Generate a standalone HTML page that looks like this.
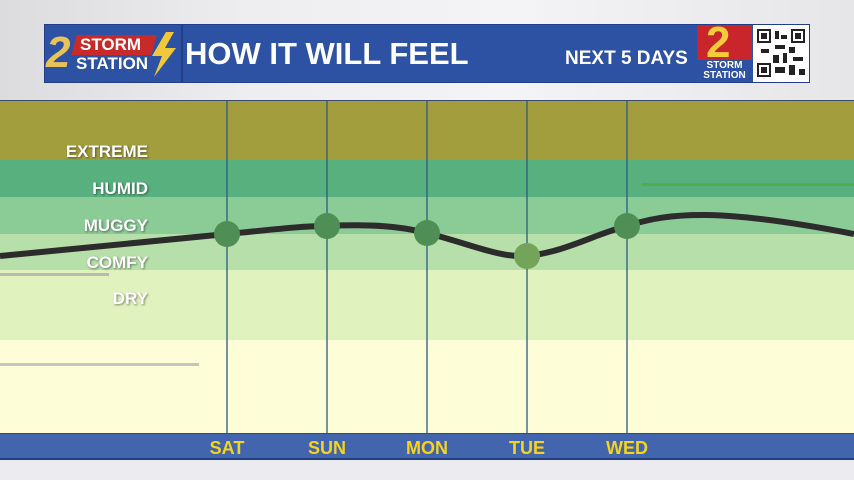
<!DOCTYPE html>
<html><head><meta charset="utf-8"><style>
*{margin:0;padding:0;box-sizing:border-box}
body{width:854px;height:480px;overflow:hidden;position:relative;background:linear-gradient(90deg,#dcdcde 0%,#eeeef0 30%,#f4f4f6 60%,#e6e6e8 100%);font-family:"Liberation Sans",sans-serif;font-weight:bold}
.a{position:absolute}
.lbl{position:absolute;right:706px;color:#fff;font-size:17px;text-shadow:1px 1px 2px rgba(0,0,0,.45)}
.day{position:absolute;top:438px;width:80px;margin-left:-40px;text-align:center;color:#f5d41e;font-size:18px}
</style></head><body>
<!-- header -->
<div class="a" style="left:44px;top:24px;width:766px;height:59px;background:#2e52a3;border:1px solid #213e86"></div>
<div class="a" style="left:181px;top:24px;width:2px;height:59px;background:#213e86"></div>
<div class="a" style="left:46px;top:30px;font-size:44px;color:#e8c35a;font-style:italic;line-height:46px;letter-spacing:-2px">2</div>
<div class="a" style="left:74px;top:35px;width:80px;height:20px;background:#c82a2a;transform:skewX(-15deg)"></div>
<div class="a" style="left:80px;top:35px;font-size:17px;color:#fff;line-height:20px">STORM</div>
<div class="a" style="left:76px;top:54px;font-size:17px;color:#fff;line-height:20px">STATION</div>
<svg class="a" style="left:148px;top:32px" width="30" height="45"><polygon points="18,0 4,24 14,24 6,45 28,16 17,16 26,0" fill="#f0c83a"/></svg>
<div class="a" style="left:185px;top:36px;font-size:31px;color:#fff;line-height:36px">HOW IT WILL FEEL</div>
<div class="a" style="left:565px;top:48px;font-size:19px;color:#fff;line-height:22px">NEXT 5 DAYS</div>
<div class="a" style="left:697px;top:25px;width:55px;height:57px;background:#fff"></div>
<div class="a" style="left:697px;top:25px;width:55px;height:35px;background:#c8262a"></div>
<div class="a" style="left:706px;top:20px;font-size:44px;color:#f3cc3c;line-height:46px">2</div>
<div class="a" style="left:697px;top:60px;width:55px;height:22px;background:#2e52a3"></div>
<div class="a" style="left:697px;top:61px;width:55px;text-align:center;font-size:10px;color:#fff;line-height:10px">STORM<br>STATION</div>
<div class="a" style="left:753px;top:25px;width:56px;height:57px;background:#fff"></div>
<svg class="a" style="left:757px;top:29px" width="48" height="48">
<rect width="48" height="48" fill="#fff"/>
<g fill="#222"><rect x="0" y="0" width="14" height="14"/><rect x="34" y="0" width="14" height="14"/><rect x="0" y="34" width="14" height="14"/>
<rect x="18" y="2" width="4" height="8"/><rect x="24" y="6" width="6" height="4"/><rect x="18" y="16" width="10" height="4"/><rect x="32" y="18" width="6" height="6"/><rect x="4" y="20" width="8" height="4"/><rect x="16" y="26" width="6" height="8"/><rect x="26" y="24" width="4" height="10"/><rect x="36" y="28" width="10" height="4"/><rect x="18" y="38" width="10" height="6"/><rect x="32" y="36" width="6" height="10"/><rect x="42" y="40" width="6" height="6"/></g>
<g fill="#fff"><rect x="2" y="2" width="10" height="10"/><rect x="36" y="2" width="10" height="10"/><rect x="2" y="36" width="10" height="10"/></g>
<g fill="#222"><rect x="4" y="4" width="6" height="6"/><rect x="38" y="4" width="6" height="6"/><rect x="4" y="38" width="6" height="6"/></g>
</svg>
<!-- bands -->
<div class="a" style="left:0;top:100px;width:854px;height:1px;background:#3a4a70"></div>
<div class="a" style="left:0;top:101px;width:854px;height:59px;background:#a29e3e"></div>
<div class="a" style="left:0;top:160px;width:854px;height:37px;background:#58b07e"></div>
<div class="a" style="left:0;top:197px;width:854px;height:37px;background:#8bcb96"></div>
<div class="a" style="left:0;top:234px;width:854px;height:36px;background:#b7dfaa"></div>
<div class="a" style="left:0;top:270px;width:854px;height:70px;background:#e0f2bd"></div>
<div class="a" style="left:0;top:340px;width:854px;height:93px;background:#fdfdd8"></div>
<div class="a" style="left:0;top:273px;width:109px;height:3px;background:#b8bcb0"></div>
<div class="a" style="left:0;top:363px;width:199px;height:3px;background:#c4c6be"></div>
<div class="a" style="left:642px;top:183px;width:212px;height:3px;background:#4fae4f"></div>
<div class="lbl" style="top:142px">EXTREME</div>
<div class="lbl" style="top:179px">HUMID</div>
<div class="lbl" style="top:216px">MUGGY</div>
<div class="lbl" style="top:253px">COMFY</div>
<div class="lbl" style="top:289px">DRY</div>
<svg class="a" style="left:0;top:0" width="854" height="480">
<g stroke="#2a5a8a" stroke-width="1.3"><line x1="227" y1="101" x2="227" y2="433"/><line x1="327" y1="101" x2="327" y2="433"/><line x1="427" y1="101" x2="427" y2="433"/><line x1="527" y1="101" x2="527" y2="433"/><line x1="627" y1="101" x2="627" y2="433"/></g>
<path d="M0,256 C80,248 160,240 227,234 C270,230 300,226 327,226 C370,224 400,226 427,233 C470,244 500,258 527,256 C565,252 595,234 627,226 C670,212 720,208 854,234" fill="none" stroke="#2c2c2c" stroke-width="6"/>
<g fill="#4f8f55"><circle cx="227" cy="234" r="13"/><circle cx="327" cy="226" r="13"/><circle cx="427" cy="233" r="13"/><circle cx="627" cy="226" r="13"/></g>
<circle cx="527" cy="256" r="13" fill="#74a45a"/>
</svg>
<!-- bottom bar -->
<div class="a" style="left:0;top:433px;width:854px;height:27px;background:#4265ad;border-top:1px solid #2c4a88;border-bottom:2px solid #23407e"></div>
<div class="a" style="left:0;top:460px;width:854px;height:20px;background:#ececf0"></div>
<div class="day" style="left:227px">SAT</div>
<div class="day" style="left:327px">SUN</div>
<div class="day" style="left:427px">MON</div>
<div class="day" style="left:527px">TUE</div>
<div class="day" style="left:627px">WED</div>
</body></html>
